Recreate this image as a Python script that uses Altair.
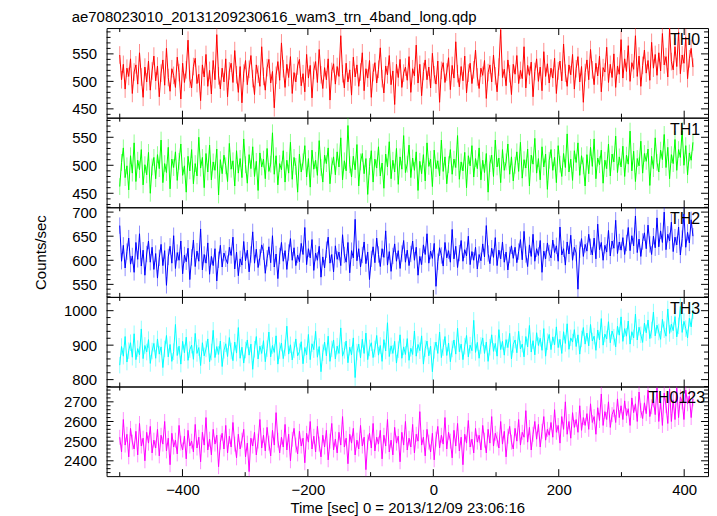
import altair as alt
import pandas as pd
import numpy as np

TITLE = "ae708023010_20131209230616_wam3_trn_4band_long.qdp"
X_TITLE = "Time [sec] 0 = 2013/12/09 23:06:16"
Y_TITLE = "Counts/sec"
T_START, T_END = -500, 414

names = ["TH0", "TH1", "TH2", "TH3", "TH0123"]
colors = ["#ff0000", "#00ff00", "#0000ff", "#00ffff", "#ff00ff"]

th0 = [548, 503, 531, 486, 524, 509, 541, 478, 517, 530, 495, 552, 508, 471, 526, 499, 537, 484, 519, 546,
       501, 528, 472, 515, 539, 493, 560, 507, 482, 523, 511, 489, 544, 516, 468, 533, 498, 521, 575, 504,
       488, 527, 542, 496, 513, 465, 530, 508, 549, 491, 520, 477, 538, 503, 585, 510, 486, 524, 499, 541,
       472, 519, 533, 498, 556, 512, 480, 527, 461, 515, 538, 494, 522, 547, 505, 476, 530, 513, 491, 563,
       509, 484, 525, 540, 497, 518, 452, 511, 536, 502, 570, 523, 489, 531, 507, 545, 478, 516, 499, 528,
       540, 492, 514, 481, 549, 506, 529, 470, 520, 536, 498, 558, 512, 487, 525, 503, 541, 466, 518, 532,
       495, 527, 509, 583, 514, 488, 533, 499, 521, 475, 544, 508, 530, 491, 517, 552, 483, 523, 506, 538,
       471, 516, 534, 497, 522, 561, 505, 479, 528, 512, 547, 494, 519, 458, 531, 507, 540, 489, 515, 526,
       502, 545, 480, 523, 510, 566, 497, 531, 474, 518, 539, 503, 526, 488, 551, 512, 495, 537, 462, 520,
       534, 498, 517, 543, 485, 529, 506, 572, 514, 490, 527, 501, 546, 479, 515, 533, 496, 521, 557, 508,
       487, 524, 511, 538, 469, 516, 530, 499, 548, 510, 481, 526, 594, 507, 522, 492, 539, 514, 476, 531,
       513, 547, 496, 520, 505, 563, 488, 529, 511, 535, 472, 518, 541, 500, 526, 483, 554, 509, 532, 497,
       524, 506, 542, 478, 519, 537, 501, 568, 515, 491, 530, 512, 549, 486, 523, 545, 499, 527, 462, 516,
       539, 503, 558, 521, 494, 533, 510, 546, 481, 525, 517, 562, 498, 531, 507, 550, 489, 528, 513, 576,
       506, 541, 518, 565, 500, 534, 522, 583, 509, 546, 491, 529, 557, 515, 538, 502, 571, 524, 549, 511,
       552, 519, 587, 530, 545, 508, 597, 536, 521, 563, 527, 590, 514, 548, 533, 580, 505, 541, 560, 526]

th1 = [462, 505, 531, 478, 499, 456, 517, 486, 540, 471, 509, 492, 528, 465, 501, 483, 523, 450, 497, 514,
       476, 519, 494, 545, 469, 503, 487, 532, 458, 511, 496, 524, 473, 507, 538, 482, 499, 452, 516, 490,
       528, 467, 503, 481, 550, 495, 514, 460, 521, 488, 536, 474, 506, 491, 529, 447, 510, 485, 518, 499,
       471, 539, 493, 508, 463, 526, 486, 512, 478, 547, 501, 468, 519, 494, 533, 480, 507, 455, 522, 497,
       511, 476, 530, 489, 502, 558, 484, 517, 465, 503, 492, 526, 470, 509, 486, 541, 475, 514, 498, 452,
       520, 488, 506, 535, 479, 512, 461, 527, 493, 509, 482, 544, 496, 470, 518, 503, 531, 467, 499, 515,
       483, 524, 497, 549, 474, 508, 490, 571, 501, 479, 516, 492, 537, 463, 506, 521, 485, 512, 448, 498,
       526, 470, 511, 495, 533, 481, 504, 459, 520, 497, 542, 476, 509, 488, 530, 466, 515, 493, 553, 487,
       502, 536, 478, 513, 491, 524, 455, 507, 485, 519, 472, 540, 498, 511, 462, 527, 494, 508, 481, 545,
       489, 515, 467, 501, 528, 484, 511, 496, 553, 475, 506, 490, 523, 460, 517, 499, 535, 479, 512, 494,
       531, 474, 509, 487, 521, 452, 503, 518, 480, 545, 497, 513, 469, 528, 491, 506, 538, 484, 515, 472,
       500, 524, 489, 541, 477, 510, 495, 529, 463, 518, 502, 548, 486, 512, 474, 533, 497, 520, 457, 509,
       528, 491, 514, 469, 535, 502, 480, 521, 496, 556, 488, 511, 473, 526, 505, 540, 482, 517, 499, 463,
       519, 485, 532, 498, 547, 476, 513, 501, 527, 468, 509, 494, 538, 481, 520, 506, 552, 487, 515, 497,
       534, 480, 518, 502, 561, 490, 525, 471, 512, 499, 543, 486, 521, 507, 529, 464, 516, 494, 549, 505,
       488, 527, 510, 555, 496, 532, 476, 519, 503, 546, 491, 528, 514, 562, 500, 535, 483, 522, 509, 541]

th2 = [672, 598, 631, 584, 618, 646, 592, 609, 575, 637, 602, 655, 588, 621, 569, 613, 640, 596, 627, 581,
       614, 563, 605, 633, 589, 620, 548, 607, 629, 594, 651, 583, 616, 600, 640, 572, 611, 597, 625, 560,
       606, 642, 587, 619, 598, 665, 580, 612, 594, 636, 571, 608, 589, 624, 557, 601, 631, 586, 615, 603,
       593, 627, 610, 648, 582, 617, 568, 603, 590, 639, 599, 621, 576, 612, 659, 594, 623, 585, 606, 632,
       618, 573, 604, 628, 595, 651, 586, 613, 562, 609, 637, 598, 620, 581, 616, 645, 600, 626, 589, 611,
       597, 635, 612, 668, 591, 624, 605, 643, 579, 615, 600, 629, 565, 607, 584, 622, 648, 594, 612, 576,
       630, 602, 617, 589, 653, 611, 596, 637, 574, 620, 605, 685, 599, 624, 586, 611, 638, 593, 617, 560,
       603, 628, 595, 646, 612, 587, 624, 606, 661, 590, 618, 577, 609, 634, 598, 620, 583, 614, 641, 596,
       621, 589, 613, 640, 600, 627, 569, 608, 591, 632, 612, 655, 594, 619, 604, 635, 546, 597, 626, 610,
       588, 637, 605, 620, 596, 664, 603, 629, 585, 615, 641, 598, 622, 609, 650, 591, 618, 600, 627, 582,
       612, 599, 634, 607, 672, 614, 593, 625, 606, 647, 589, 621, 603, 638, 596, 617, 580, 611, 630, 604,
       627, 595, 618, 643, 601, 660, 612, 587, 632, 608, 654, 598, 624, 610, 641, 575, 619, 603, 636, 615,
       605, 642, 616, 630, 598, 669, 611, 624, 590, 638, 613, 652, 600, 627, 615, 540, 622, 645, 608, 633,
       619, 654, 628, 611, 646, 603, 675, 622, 637, 600, 631, 617, 662, 609, 640, 625, 683, 614, 638, 621,
       647, 612, 636, 668, 620, 651, 630, 692, 616, 644, 608, 639, 657, 624, 673, 633, 612, 650, 626, 688,
       628, 661, 637, 700, 622, 654, 640, 679, 618, 648, 632, 669, 611, 645, 696, 627, 658, 636, 684, 650]

th3 = [842, 896, 868, 925, 851, 884, 907, 865, 933, 858, 890, 872, 947, 861, 899, 880, 916, 847, 883, 905,
       862, 918, 874, 895, 835, 889, 928, 866, 902, 853, 881, 960, 870, 897, 845, 911, 878, 923, 856, 887,
       900, 859, 934, 876, 893, 841, 907, 869, 889, 918, 852, 880, 943, 864, 896, 873, 912, 838, 885, 904,
       867, 922, 883, 855, 909, 877, 951, 862, 894, 848, 886, 915, 871, 903, 830, 888, 925, 860, 897, 876,
       913, 852, 890, 938, 866, 899, 879, 927, 845, 884, 906, 861, 892, 955, 874, 901, 857, 886, 918, 869,
       881, 910, 846, 893, 872, 931, 858, 904, 887, 940, 865, 896, 823, 878, 909, 869, 926, 853, 889, 915,
       860, 897, 876, 950, 868, 885, 912, 849, 894, 872, 921, 806, 880, 903, 863, 917, 876, 935, 858, 892,
       907, 864, 889, 928, 871, 899, 853, 916, 883, 965, 867, 898, 876, 911, 848, 887, 930, 862, 895, 873,
       919, 856, 891, 873, 941, 868, 902, 884, 927, 845, 890, 912, 869, 897, 823, 885, 909, 876, 938, 864,
       893, 925, 870, 906, 852, 889, 915, 874, 949, 881, 903, 858, 897, 928, 866, 900, 884, 972, 879, 908,
       862, 899, 921, 876, 909, 853, 894, 930, 882, 905, 868, 945, 887, 911, 871, 916, 893, 934, 860, 902,
       915, 878, 940, 889, 903, 866, 925, 895, 957, 880, 913, 872, 936, 899, 920, 885, 948, 868, 910, 931,
       887, 924, 901, 953, 893, 917, 876, 939, 905, 962, 888, 921, 909, 945, 896, 930, 874, 918, 951, 903,
       935, 898, 960, 912, 926, 885, 944, 915, 977, 900, 932, 918, 968, 907, 941, 923, 895, 955, 929, 982,
       911, 948, 926, 970, 903, 939, 921, 990, 915, 952, 930, 908, 964, 936, 973, 919, 944, 996, 927, 958,
       938, 917, 975, 945, 926, 1005, 934, 961, 942, 983, 924, 956, 1012, 937, 969, 948, 921, 978, 953, 1000]

th0123 = [2520, 2445, 2610, 2480, 2535, 2420, 2565, 2495, 2460, 2550, 2430, 2590, 2475, 2515, 2400, 2545, 2490, 2575, 2440, 2505,
          2465, 2560, 2425, 2530, 2485, 2600, 2450, 2515, 2380, 2540, 2470, 2505, 2435, 2580, 2490, 2455, 2525, 2410, 2555, 2475,
          2500, 2445, 2585, 2465, 2520, 2395, 2545, 2480, 2620, 2455, 2510, 2430, 2560, 2485, 2530, 2370, 2495, 2540, 2460, 2580,
          2440, 2525, 2470, 2595, 2485, 2415, 2535, 2460, 2505, 2560, 2420, 2490, 2345, 2515, 2475, 2545, 2430, 2500, 2610, 2465,
          2530, 2450, 2570, 2490, 2425, 2555, 2480, 2645, 2505, 2440, 2520, 2470, 2585, 2455, 2535, 2400, 2510, 2565, 2480, 2435,
          2550, 2475, 2515, 2390, 2540, 2495, 2600, 2460, 2525, 2445, 2575, 2485, 2420, 2530, 2470, 2555, 2405, 2500, 2590, 2455,
          2510, 2440, 2545, 2480, 2625, 2470, 2515, 2385, 2535, 2490, 2565, 2430, 2505, 2460, 2580, 2475, 2520, 2355, 2495, 2540,
          2465, 2590, 2450, 2520, 2485, 2555, 2410, 2530, 2475, 2610, 2445, 2505, 2430, 2570, 2490, 2525, 2395, 2545, 2480, 2600,
          2455, 2515, 2470, 2585, 2440, 2535, 2500, 2650, 2480, 2520, 2425, 2560, 2495, 2445, 2540, 2405, 2510, 2575, 2465, 2530,
          2485, 2620, 2460, 2545, 2500, 2415, 2555, 2475, 2590, 2450, 2520, 2380, 2535, 2490, 2605, 2470, 2510, 2440, 2565, 2495,
          2530, 2455, 2580, 2505, 2440, 2560, 2490, 2625, 2475, 2540, 2510, 2465, 2600, 2485, 2550, 2420, 2525, 2575, 2495, 2460,
          2565, 2500, 2610, 2480, 2545, 2520, 2655, 2495, 2570, 2455, 2535, 2600, 2510, 2585, 2470, 2550, 2625, 2505, 2560, 2530,
          2595, 2520, 2660, 2545, 2580, 2490, 2625, 2560, 2700, 2535, 2600, 2515, 2645, 2570, 2610, 2545, 2680, 2555, 2620, 2580,
          2640, 2560, 2690, 2595, 2625, 2535, 2670, 2605, 2740, 2580, 2650, 2610, 2700, 2570, 2635, 2660, 2595, 2715, 2620, 2680,
          2610, 2705, 2630, 2665, 2580, 2720, 2645, 2690, 2600, 2750, 2655, 2615, 2695, 2640, 2760, 2625, 2675, 2710, 2635, 2770,
          2600, 2700, 2580, 2745, 2680, 2590, 2765, 2600, 2710, 2610, 2770, 2620, 2725, 2700, 2610, 2760, 2690, 2730, 2620, 2715]

# typical 1-sigma error bar half-length per panel
errors = [16, 15, 17, 24, 38]

series = [th0, th1, th2, th3, th0123]
y_domains = [[434, 597], [425, 585], [524, 710], [780, 1040], [2322, 2778]]
major_steps = [50, 50, 50, 100, 100]
minor_steps = [10, 10, 10, 20, 20]
x_domain = [-521, 438]

FONT = "Liberation Sans"
W, H = 604, 90
MAJ, MIN = 7, 4

xscale = alt.Scale(domain=x_domain, nice=False, zero=False)
x_major = [-400, -200, 0, 200, 400]
x_minor = [-500, -300, -100, 100, 300]


def vals_in(lo, hi, step):
    start = int(np.ceil(lo / step) * step)
    return list(range(start, int(hi) + 1, step))


def panel(i):
    bottom = i == len(series) - 1
    n = len(series[i])
    t = np.linspace(T_START, T_END, n)
    v = np.array(series[i], dtype=float)
    df = pd.DataFrame({"t": t, "v": v, "lo": v - errors[i], "hi": v + errors[i]})
    lo, hi = y_domains[i]
    yscale = alt.Scale(domain=y_domains[i], nice=False, zero=False)
    ymaj = vals_in(lo, hi, major_steps[i])
    ymin = [y for y in vals_in(lo, hi, minor_steps[i]) if y not in ymaj]

    if bottom:
        xaxis = alt.Axis(values=x_major, ticks=False, domain=False, grid=False,
                         labelFontSize=15, labelFont=FONT, labelPadding=6, labelColor="black",
                         title=X_TITLE, titleFontSize=15, titleFont=FONT,
                         titleFontWeight="normal", titleColor="black", titlePadding=4)
    else:
        xaxis = None
    yaxis = alt.Axis(values=ymaj, format="d", ticks=False, domain=False, grid=False,
                     labelFontSize=15, labelFont=FONT, labelPadding=10, labelColor="black",
                     title=Y_TITLE if i == 2 else None, titleFontSize=15, titleFont=FONT,
                     titleFontWeight="normal", titleColor="black", titlePadding=23)

    base = alt.Chart(df)
    err = base.mark_rule(color=colors[i], opacity=0.45, strokeWidth=1, clip=True).encode(
        x=alt.X("t:Q", scale=xscale, axis=xaxis),
        y=alt.Y("lo:Q", scale=yscale, axis=yaxis),
        y2="hi:Q",
    )
    line = base.mark_line(color=colors[i], strokeWidth=1, clip=True).encode(
        x=alt.X("t:Q", scale=xscale, axis=xaxis),
        y=alt.Y("v:Q", scale=yscale, axis=yaxis),
    )

    layers = [err, line]
    for xs, ln in ((x_major, MAJ), (x_minor, MIN)):
        tdf = pd.DataFrame({"t": xs})
        layers.append(alt.Chart(tdf).mark_rule(color="black", strokeWidth=1).encode(
            x=alt.X("t:Q", scale=xscale, axis=xaxis), y=alt.value(0), y2=alt.value(ln)))
        layers.append(alt.Chart(tdf).mark_rule(color="black", strokeWidth=1).encode(
            x=alt.X("t:Q", scale=xscale, axis=xaxis), y=alt.value(H), y2=alt.value(H - ln)))
    for ys, ln in ((ymaj, MAJ), (ymin, MIN)):
        ydf = pd.DataFrame({"v": ys})
        layers.append(alt.Chart(ydf).mark_rule(color="black", strokeWidth=1).encode(
            y=alt.Y("v:Q", scale=yscale, axis=yaxis), x=alt.value(0), x2=alt.value(ln)))
        layers.append(alt.Chart(ydf).mark_rule(color="black", strokeWidth=1).encode(
            y=alt.Y("v:Q", scale=yscale, axis=yaxis), x=alt.value(W), x2=alt.value(W - ln)))

    label = alt.Chart(pd.DataFrame({"n": [names[i]]})).mark_text(
        align="right", baseline="top", fontSize=16, font=FONT, color="black"
    ).encode(text="n:N", x=alt.value(W - 3 if bottom else W - 8), y=alt.value(4))
    layers.append(label)

    ch = alt.layer(*layers).properties(width=W, height=H)
    if i == 0:
        ch = ch.properties(title=alt.TitleParams(TITLE, anchor="start", fontSize=15, font=FONT,
                                                 fontWeight="normal", color="black", offset=3))
    return ch


chart = alt.vconcat(*[panel(i) for i in range(len(series))], spacing=0, bounds="flush").properties(
    padding={"left": 25, "top": 0, "right": 0, "bottom": 20},
    background="white",
).configure_view(stroke="black", strokeWidth=1)

chart.save("out.html", embed_options={"renderer": "svg", "actions": False})
